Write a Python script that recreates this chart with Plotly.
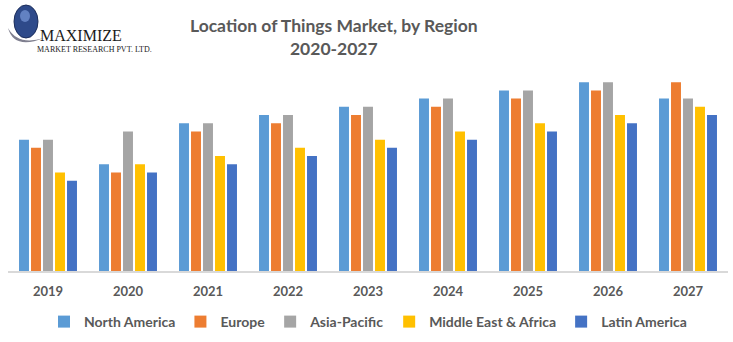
import plotly.graph_objects as go

years = ["2019", "2020", "2021", "2022", "2023", "2024", "2025", "2026", "2027"]
north_america = [16, 13, 18, 19, 20, 21, 22, 23, 21]
europe = [15, 12, 17, 18, 19, 20, 21, 22, 23]
asia_pacific = [16, 17, 18, 19, 20, 21, 22, 23, 21]
middle_east_africa = [12, 13, 14, 15, 16, 17, 18, 19, 20]
latin_america = [11, 12, 13, 14, 15, 16, 17, 18, 19]

series = [
    ("North America", north_america, "#5B9BD5"),
    ("Europe", europe, "#ED7D31"),
    ("Asia-Pacific", asia_pacific, "#A5A5A5"),
    ("Middle East & Africa", middle_east_africa, "#FFC000"),
    ("Latin America", latin_america, "#4472C4"),
]

W, H = 733, 342
L, R, T, B = 8, 5, 60, 71

fig = go.Figure()
for name, vals, color in series:
    fig.add_trace(go.Bar(x=years, y=vals, name=name, marker=dict(color=color, line=dict(width=0))))

fig.update_layout(
    width=W, height=H,
    margin=dict(l=L, r=R, t=T, b=B, autoexpand=False),
    paper_bgcolor="white", plot_bgcolor="white",
    barmode="group", bargap=0.25, bargroupgap=0.17,
    font=dict(family="Lato", color="#595959"),
    xaxis=dict(
        showgrid=False, ticks="", showline=True, linecolor="#D9D9D9", linewidth=1.5,
        tickfont=dict(size=13, color="#595959", family="Lato", weight="bold"),
        ticklabelstandoff=8,
    ),
    yaxis=dict(visible=False, range=[0, 25.7]),
    legend=dict(
        orientation="h", x=0.5, xanchor="center",
        yref="container", y=(H - 306) / H, yanchor="top",
        font=dict(size=14, color="#595959", family="Lato", weight="bold"),
        itemwidth=30,
    ),
    showlegend=True,
)

def px(x):
    return (x - L) / (W - L - R)

def py(y):
    return (H - B - y) / (H - T - B)

fig.add_annotation(text="<b>Location of Things Market, by Region<br>2020-2027</b>",
                   xref="paper", yref="paper", x=px(334), y=py(36.5), xanchor="center", yanchor="middle",
                   showarrow=False, align="center",
                   font=dict(size=17.5, color="#595959", family="Lato"))

# logo
fig.add_shape(type="path", xref="paper", yref="paper",
              path=f"M{px(8)},{py(28)} Q{px(14)},{py(50)} {px(44)},{py(38)} Q{px(18)},{py(46)} {px(8)},{py(28)} Z",
              fillcolor="#7F7F8F", line=dict(width=0))
fig.add_shape(type="circle", xref="paper", yref="paper",
              x0=px(14), x1=px(38), y0=py(38), y1=py(5),
              fillcolor="#2E4A8A", line=dict(color="#1C2D5A", width=1))
fig.add_shape(type="circle", xref="paper", yref="paper",
              x0=px(20), x1=px(30), y0=py(22), y1=py(10),
              fillcolor="#6F8FD0", line=dict(width=0), opacity=0.8)
fig.add_annotation(text="MAXIMIZE", xref="paper", yref="paper",
                   x=px(38), y=py(36), xanchor="left", yanchor="middle",
                   showarrow=False, font=dict(family="Liberation Serif", size=16, color="#1a1a1a"))
fig.add_annotation(text="MARKET RESEARCH PVT. LTD.", xref="paper", yref="paper",
                   x=px(35), y=py(50), xanchor="left", yanchor="middle",
                   showarrow=False, font=dict(family="Liberation Serif", size=8, color="#1a1a1a"))

fig.write_html("out.html")
